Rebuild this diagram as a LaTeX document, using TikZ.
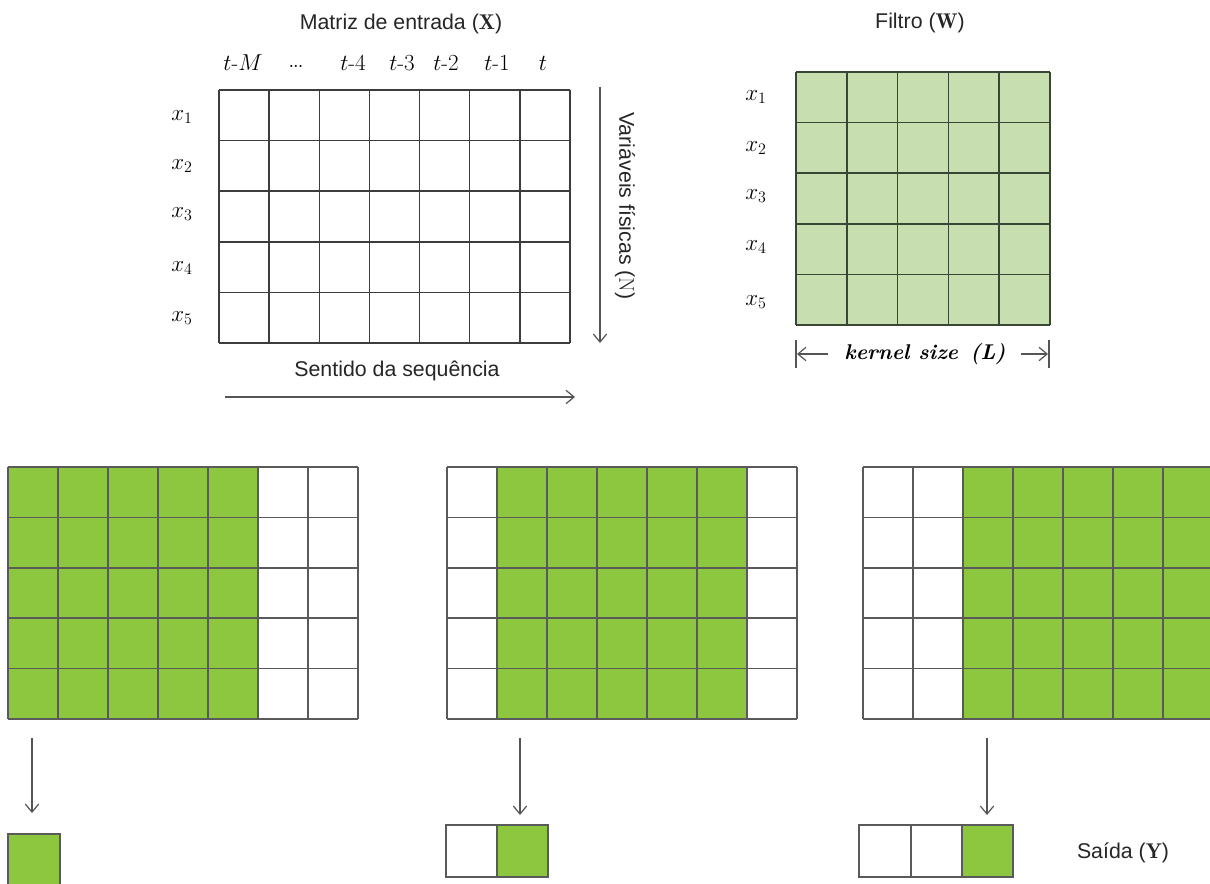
\documentclass[tikz,border=0pt]{standalone}
\usepackage{amsmath}
\usepackage{fontspec}
\newfontfamily\labfont{Liberation Sans}
\usetikzlibrary{arrows.meta}
\definecolor{lightgreen}{HTML}{C6DEB0}
\definecolor{brightgreen}{HTML}{8DC63F}
\definecolor{gridgray}{HTML}{3C3C3C}
\definecolor{botgray}{HTML}{5A5A5A}
\definecolor{arrowgray}{HTML}{555555}
\definecolor{filterline}{HTML}{3A4634}
\newcommand\convgrid[2]{%
  \fill[brightgreen] ({#1+#2*50},467) rectangle ({#1+(#2+5)*50},719);
  \foreach \i in {0,...,7} \draw[bline] ({#1+\i*50},467) -- ({#1+\i*50},719);
  \foreach \j in {0,...,5} \draw[bline] (#1,{467+\j*50.4}) -- ({#1+350},{467+\j*50.4});
}
\begin{document}
\begin{tikzpicture}[x=0.75pt,y=-0.75pt,
  lab/.style={font=\labfont\fontsize{16}{19}\selectfont, text=black!85, inner sep=0},
  mlab/.style={font=\fontsize{16.5}{19}\selectfont, inner sep=0},
  gline/.style={draw=gridgray, line width=1.1pt},
  fline/.style={draw=filterline, line width=1.1pt},
  bline/.style={draw=botgray, line width=1.1pt},
  arr/.style={draw=arrowgray, line width=0.9pt, -{Straight Barb[length=6pt,width=10pt]}},
]
\useasboundingbox (0,0) rectangle (1210,884);
\fill[white] (0,0) rectangle (1210,884);

% ---------- input matrix ----------
\node[lab] (titleX) at (401,24) {Matriz de entrada ($\mathbf{X}$)};
\foreach \i in {0,...,7} \draw[gline] ({219+\i*50.15},90) -- ({219+\i*50.15},343);
\foreach \j in {0,...,5} \draw[gline] (219,{90+\j*50.6}) -- (570,{90+\j*50.6});
\node[mlab] (cM) at (243,63) {$t\text{-}M$};
\node[inner sep=0, anchor=base, font=\fontsize{11}{12}\selectfont\bfseries] (cdots) at (296,68) {...};
\node[mlab] (c4) at (353,63) {$t\text{-}4$};
\node[mlab] (c3) at (402,63) {$t\text{-}3$};
\node[mlab] (c2) at (446,63) {$t\text{-}2$};
\node[mlab] (c1) at (497,63) {$t\text{-}1$};
\node[mlab] (c0) at (543,63) {$t$};
\node[mlab] (r1) at (182,117) {$x_1$};
\node[mlab] (r2) at (182,166) {$x_2$};
\node[mlab] (r3) at (182,214) {$x_3$};
\node[mlab] (r4) at (182,268) {$x_4$};
\node[mlab] (r5) at (182,318) {$x_5$};
\coordinate (vTop) at (600,87);
\coordinate (vBot) at (600,343);
\draw[arr] (vTop) -- (vBot);
\node[lab, rotate=-90] (varN) at (625,206) {Variáveis físicas ($\mathrm{N}$)};
\node[lab] (seq) at (397,371) {Sentido da sequência};
\coordinate (hL) at (225,397);
\coordinate (hR) at (575,397);
\draw[arr] (hL) -- (hR);

% ---------- filter ----------
\node[lab] (titleW) at (920,23) {Filtro ($\mathbf{W}$)};
\fill[lightgreen] (796,72) rectangle (1050,325);
\foreach \i in {0,...,5} \draw[fline] ({796+\i*50.8},72) -- ({796+\i*50.8},325);
\foreach \j in {0,...,5} \draw[fline] (796,{72+\j*50.6}) -- (1050,{72+\j*50.6});
\node[mlab] (w1) at (756,97) {$x_1$};
\node[mlab] (w2) at (756,148) {$x_2$};
\node[mlab] (w3) at (756,196) {$x_3$};
\node[mlab] (w4) at (756,247) {$x_4$};
\node[mlab] (w5) at (756,302) {$x_5$};
\draw[draw=arrowgray, line width=0.9pt] (796,340) -- (796,368);
\draw[draw=arrowgray, line width=0.9pt] (1049,340) -- (1049,368);
\node[font=\fontsize{16}{19}\selectfont\bfseries\itshape, inner sep=0] (ks) at (925,354) {kernel size\, (L)};
\coordinate (kL1) at (828,354);
\coordinate (kL2) at (797,354);
\coordinate (kR1) at (1021,354);
\coordinate (kR2) at (1048,354);
\draw[arr] (kL1) -- (kL2);
\draw[arr] (kR1) -- (kR2);

% ---------- convolution steps ----------
\convgrid{8}{0}
\convgrid{447}{1}
\convgrid{863}{2}

\coordinate (a1s) at (32,738);  \coordinate (a1e) at (32,813);
\coordinate (a2s) at (520,738); \coordinate (a2e) at (520,815);
\coordinate (a3s) at (987,738); \coordinate (a3e) at (987,815);
\draw[arr] (a1s) -- (a1e);
\draw[arr] (a2s) -- (a2e);
\draw[arr] (a3s) -- (a3e);

\filldraw[fill=brightgreen, draw=botgray, line width=1.1pt] (8,834) rectangle (60,886);
\filldraw[fill=white, draw=botgray, line width=1.1pt] (446,825) rectangle (497,877);
\filldraw[fill=brightgreen, draw=botgray, line width=1.1pt] (497,825) rectangle (548,877);
\filldraw[fill=white, draw=botgray, line width=1.1pt] (859,825) rectangle (911,877);
\filldraw[fill=white, draw=botgray, line width=1.1pt] (911,825) rectangle (962,877);
\filldraw[fill=brightgreen, draw=botgray, line width=1.1pt] (962,825) rectangle (1013,877);
\node[lab] (saida) at (1123,853) {Saída ($\mathbf{Y}$)};
\end{tikzpicture}
\end{document}
